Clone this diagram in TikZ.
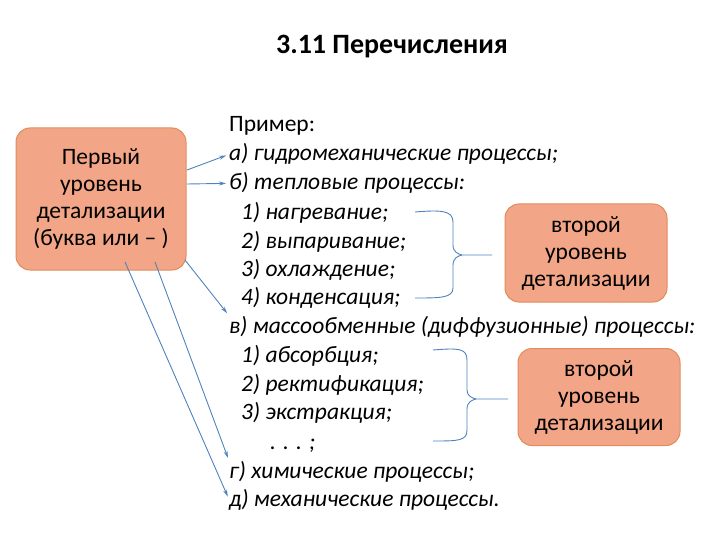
\documentclass[tikz,border=0pt]{standalone}
\usepackage{fontspec}
\usetikzlibrary{arrows.meta}
\setmainfont{Carlito}
\definecolor{boxfill}{RGB}{242,165,135}
\definecolor{boxline}{RGB}{225,140,90}
\definecolor{arrc}{RGB}{80,130,190}
\begin{document}
\begin{tikzpicture}[x=1pt,y=-1pt,
  box/.style={draw=boxline,line width=1pt,fill=boxfill,rounded corners=14pt,align=center,font=\fontsize{23.5}{27}\selectfont,inner sep=0pt},
  ln/.style={anchor=base west,inner sep=0pt,font=\fontsize{23.5}{20}\selectfont\itshape},
  arr/.style={draw=arrc,line width=0.9pt,-{Stealth[length=7pt,width=4pt]},shorten >=3pt},
  brace/.style={draw=arrc,line width=0.9pt}]
\useasboundingbox (0,0) rectangle (720,540);
\node[font=\fontsize{28}{30}\selectfont\bfseries] (title) at (392,47) {3.11 Перечисления};
\node[box,minimum width=170pt,minimum height=142pt] (b1) at (101,199) {Первый\\уровень\\детализации\\(буква или – )};
\node[box,minimum width=162pt,minimum height=98pt] (b2) at (586,253) {второй\\уровень\\детализации};
\node[box,minimum width=162pt,minimum height=97pt] (b3) at (599,397) {второй\\уровень\\детализации};
\node[ln,font=\fontsize{23.5}{20}\selectfont] (l0) at (229,132) {Пример:};
\node[ln] (la) at (229,161) {а) гидромеханические процессы;};
\node[ln] (lb) at (229,190) {б) тепловые процессы:};
\node[ln] (l1) at (241,219) {1) нагревание;};
\node[ln] (l2) at (241,248) {2) выпаривание;};
\node[ln] (l3) at (241,276) {3) охлаждение;};
\node[ln] (l4) at (241,304) {4) конденсация;};
\node[ln] (lv) at (229,333) {в) массообменные (диффузионные) процессы:};
\node[ln] (m1) at (241,362) {1) абсорбция;};
\node[ln] (m2) at (241,391) {2) ректификация;};
\node[ln] (m3) at (241,419) {3) экстракция;};
\node[ln] (md) at (270,449) {. . . ;};
\node[ln] (lg) at (229,478) {г) химические процессы;};
\node[ln] (ld) at (229,506) {д) механические процессы.};
\coordinate (a1) at (187,170); \coordinate (a2) at (187,184);
\coordinate (a3) at (185,260); \coordinate (a4) at (155,262); \coordinate (a5) at (125,262);
\draw[arr] (a1) -- (la.west);
\draw[arr] (a2) -- (lb.west);
\draw[arr] (a3) -- (lv.north west);
\draw[arr] (a4) -- (lg.north west);
\draw[arr] (a5) -- (ld.west);
% braces
\draw[brace] (415,212) .. controls (440,210) and (453,210) .. (453,222) -- (453,245)
  .. controls (453,252) and (458,254) .. (462,255) -- (492,255);
\draw[brace] (462,255) .. controls (458,256) and (453,258) .. (453,265) -- (453,288)
  .. controls (453,298) and (440,298) .. (415,298);
\draw[brace] (433,350) .. controls (458,348) and (467,348) .. (467,360) -- (467,390)
  .. controls (467,396) and (472,398) .. (476,399) -- (508,399);
\draw[brace] (476,399) .. controls (472,400) and (467,402) .. (467,409) -- (467,430)
  .. controls (467,441) and (458,441) .. (433,441);
\end{tikzpicture}
\end{document}
